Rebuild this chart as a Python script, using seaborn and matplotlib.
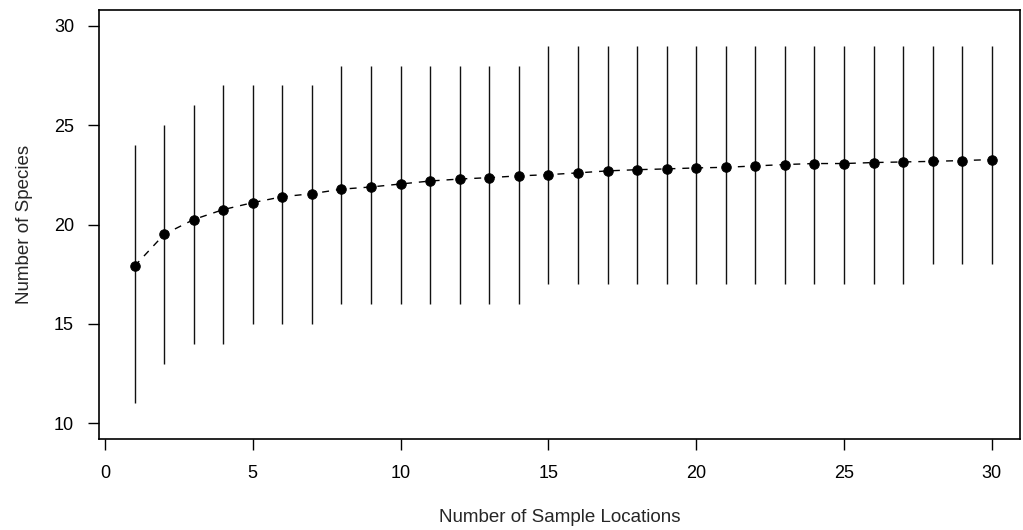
import matplotlib
matplotlib.use("Agg")
import matplotlib.pyplot as plt
import seaborn as sns
import numpy as np
import pandas as pd

locations = list(range(1, 31))
mean_species = [17.9, 19.5, 20.25, 20.75, 21.1, 21.4, 21.55, 21.78, 21.89, 22.04,
                22.19, 22.29, 22.36, 22.45, 22.51, 22.6, 22.7, 22.76, 22.8, 22.85,
                22.88, 22.95, 23.02, 23.07, 23.07, 23.12, 23.15, 23.18, 23.22, 23.27]
min_species = [11, 13, 14, 14, 15, 15, 15, 16, 16, 16,
               16, 16, 16, 16, 17, 17, 17, 17, 17, 17,
               17, 17, 17, 17, 17, 17, 17, 18, 18, 18]
max_species = [24, 25, 26, 27, 27, 27, 27, 28, 28, 28,
               28, 28, 28, 28, 29, 29, 29, 29, 29, 29,
               29, 29, 29, 29, 29, 29, 29, 29, 29, 29]
x_ticks = [0, 5, 10, 15, 20, 25, 30]
y_ticks = [10, 15, 20, 25, 30]

df = pd.DataFrame({"loc": locations, "mean": mean_species,
                   "lo": min_species, "hi": max_species})

sns.set_style("ticks")
plt.rcParams['font.family'] = ['Liberation Sans', 'DejaVu Sans']

fig = plt.figure(figsize=(10.23, 5.30), dpi=100)
ax = fig.add_axes([0.0968, 0.1717, 0.9002, 0.8094])

ax.vlines(df["loc"], df["lo"], df["hi"], color="#111111", linewidth=1.0, zorder=1)
sns.lineplot(data=df, x="loc", y="mean", ax=ax, color="black", linewidth=1.0,
             marker="o", markersize=6.8, markeredgecolor="black",
             markerfacecolor="black", zorder=3)
ax.lines[-1].set_dashes((5, 5))

ax.set_xlim(-0.2, 30.95)
ax.set_ylim(9.2, 30.8)
ax.set_xticks(x_ticks)
ax.set_yticks(y_ticks)
ax.tick_params(axis="both", direction="out", length=8, width=1.0,
               labelsize=13, colors="black")
ax.tick_params(axis="y", pad=10)
ax.tick_params(axis="x", pad=11)
for s in ax.spines.values():
    s.set_visible(True)
    s.set_linewidth(1.2)
    s.set_color("black")

ax.set_xlabel("Number of Sample Locations", fontsize=13.5)
ax.set_ylabel("Number of Species", fontsize=13.5)
ax.xaxis.set_label_coords(0.5, -0.163)
ax.yaxis.set_label_coords(-0.072, 0.5)

fig.savefig("out.png", dpi=100)
